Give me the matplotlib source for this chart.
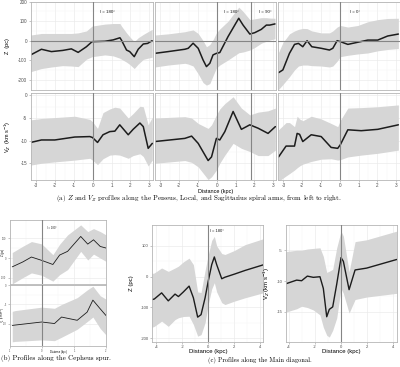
import matplotlib
matplotlib.use("Agg")
import matplotlib.pyplot as plt
import numpy as np

plt.rcParams["font.family"] = ["Liberation Sans", "DejaVu Sans"]
plt.rcParams["axes.unicode_minus"] = False

# ---- (a) Perseus / Local / Sagittarius, Z ----
per_x = [-3.3, -2.73, -2.2, -1.6, -1.14, -0.78, -0.34, -0.04, 0.64, 1.08, 1.44, 1.52, 1.79, 1.96, 2.2, 2.41, 2.68, 2.91, 3.15]
per_z = [-73, -44, -56, -50, -42, -60, -31, -5, -3, 4, 15, 3, -48, -56, -82, -44, -17, -14, 0]
per_hi = [29, 37, 37, 37, 37, 40, 50, 75, 85, 88, 88, 75, 40, 20, -5, 15, 32, 45, 58]
per_lo = [-159, -143, -135, -128, -130, -133, -95, -82, -73, -78, -90, -95, -110, -122, -143, -120, -96, -90, -85]

loc_x = [-3.3, -2.59, -1.7, -1.52, -1.26, -0.99, -0.73, -0.55, -0.37, -0.2, -0.02, 0.16, 0.6, 1.17, 1.4, 1.76, 2.02, 2.37, 2.64, 2.82, 3.1]
loc_z = [-65, -56, -44, -39, -13, -39, -99, -133, -116, -73, -65, -61, 21, 115, 80, 34, 41, 58, 80, 80, 86]
loc_hi = [29, 35, 46, 50, 55, 37, 0, -31, -20, 5, 40, 60, 100, 172, 150, 108, 112, 118, 118, 116, 115]
loc_lo = [-135, -125, -116, -120, -130, -170, -215, -228, -220, -180, -140, -125, -99, -62, -58, -48, -35, -13, -3, 3, 10]

sag_x = [-3.26, -3.03, -2.68, -2.41, -2.2, -1.97, -1.74, -1.49, -0.99, -0.55, -0.37, -0.14, 0.03, 0.43, 0.96, 1.49, 2.02, 2.55, 3.12]
sag_z = [-164, -150, -65, -19, -14, -31, 0, -31, -39, -48, -39, 0, -5, -19, -8, 3, 3, 24, 34]
sag_hi = [-60, -10, 35, 50, 58, 63, 62, 50, 40, 40, 50, 70, 78, 70, 78, 97, 108, 114, 115]
sag_lo = [-250, -225, -185, -150, -130, -125, -125, -128, -130, -135, -130, -105, -82, -75, -68, -63, -52, -45, -40]

# ---- (a) V_Z ----
perv_x = [-3.3, -2.73, -2.02, -0.96, -0.16, -0.02, 0.25, 0.54, 0.9, 1.17, 1.43, 1.88, 2.14, 2.5, 2.68, 2.94, 3.16]
perv = [-10.4, -9.85, -9.85, -9.2, -9.1, -9.3, -10.4, -8.7, -8.0, -7.9, -6.5, -8.7, -7.5, -6.1, -6.9, -11.7, -10.6]
perv_hi = [-5.4, -5.1, -4.9, -4.6, -5.3, -5.8, -7.3, -3.8, -3.0, -2.6, -2.8, -5.0, -4.0, -2.4, -2.5, -6.5, -4.8]
perv_lo = [-15.4, -15.0, -14.7, -14.3, -13.9, -14.3, -15.3, -14.0, -13.2, -13.1, -13.2, -13.9, -13.3, -12.9, -13.5, -15.6, -14.3]

locv_x = [-3.3, -1.7, -1.34, -0.99, -0.46, -0.28, -0.02, 0.16, 0.43, 0.87, 1.31, 1.76, 2.2, 2.73, 3.12]
locv = [-10.2, -9.5, -9.0, -10.6, -14.4, -13.6, -9.5, -9.85, -8.0, -3.55, -7.5, -6.5, -7.25, -8.4, -6.9]
locv_hi = [-5.0, -4.7, -5.0, -6.2, -7.3, -6.5, -4.3, -3.0, -1.8, -0.3, -2.8, -4.3, -3.7, -3.4, -2.8]
locv_lo = [-15.0, -14.4, -14.8, -15.8, -18.6, -18.0, -16.5, -15.0, -13.2, -10.6, -11.7, -12.4, -13.3, -13.3, -12.1]

sagv_x = [-3.26, -2.86, -2.68, -2.41, -2.27, -2.14, -1.97, -1.52, -0.99, -0.46, -0.11, 0.03, 0.43, 1.14, 2.02, 3.12]
sagv = [-13.6, -11.2, -11.2, -11.2, -8.4, -8.6, -10.2, -8.7, -9.1, -11.5, -11.7, -10.9, -7.6, -7.8, -7.5, -6.5]
sagv_hi = [-7.6, -6.0, -6.0, -6.9, -4.6, -5.2, -5.6, -4.6, -5.2, -6.2, -6.9, -5.5, -2.8, -2.7, -2.5, -2.1]
sagv_lo = [-19.0, -17.8, -17.3, -16.5, -16.0, -15.6, -15.2, -14.6, -14.1, -14.0, -14.3, -14.2, -13.6, -13.2, -12.8, -12.1]

# ---- (b) Cepheus spur ----
cep_x = [-0.93, -0.6, -0.33, -0.01, 0.34, 0.55, 0.8, 1.21, 1.43, 1.61, 1.82, 2.0]
cep_z = [-45, -20, 5, -12, -33, 15, 34, 110, 71, 93, 59, 51]
cep_hi = [28, 60, 84, 72, 17, 70, 118, 169, 135, 150, 135, 118]
cep_lo = [-132, -100, -76, -88, -118, -85, -59, 34, -10, 20, 0, -17]

cepv_x = [-0.93, -0.84, -0.01, 0.39, 0.61, 1.1, 1.41, 1.59, 1.82, 2.0]
cepv = [-10.5, -10.4, -9.6, -10.0, -8.3, -9.15, -7.0, -3.85, -6.15, -7.9]
cepv_hi = [-6.8, -6.6, -5.7, -6.0, -5.0, -3.2, -1.2, -0.2, -2.7, -3.6]
cepv_lo = [-14.8, -14.7, -14.3, -14.5, -13.6, -11.5, -9.5, -8.3, -11.3, -13.0]

# ---- (c) Main diagonal ----
main_x = [-4.33, -4.15, -3.59, -3.08, -2.56, -2.3, -1.92, -1.48, -1.15, -0.82, -0.56, -0.25, -0.01, 0.26, 0.46, 0.64, 1.03, 1.28, 2.0, 2.82, 4.2]
main_z = [-75, -73, -53, -79, -57, -65, -50, -31, -69, -132, -124, -69, -15, 39, 64, 39, -7, -2, 8, 20, 38]
main_hi = [10, 12, 28, 17, 28, 34, 48, 60, 39, -50, -52, 20, 70, 118, 131, 100, 75, 72, 85, 104, 123]
main_lo = [-165, -162, -145, -162, -140, -134, -130, -129, -156, -194, -189, -150, -90, -40, -20, -50, -85, -91, -80, -69, -53]

mainv_x = [-4.25, -4.18, -3.41, -3.03, -2.59, -2.13, -1.62, -1.36, -1.1, -0.9, -0.64, -0.33, 0.0, 0.18, 0.62, 1.08, 1.97, 4.28]
mainv = [-10.4, -10.4, -9.85, -9.95, -9.2, -9.4, -9.3, -11.2, -15.8, -14.6, -14.2, -10.5, -6.2, -6.8, -11.4, -8.2, -7.9, -6.5]
mainv_hi = [-5.3, -5.2, -5.0, -5.0, -4.8, -4.7, -4.6, -6.0, -8.6, -8.4, -8.1, -4.6, -1.9, -2.7, -8.5, -3.6, -3.3, -1.9]
mainv_lo = [-15.0, -15.0, -14.5, -14.1, -14.3, -14.7, -15.5, -17.5, -18.8, -19.1, -18.0, -16.0, -11.2, -12.0, -15.2, -13.0, -12.6, -12.0]

W, H = 400, 367
fig = plt.figure(figsize=(W / 100, H / 100), dpi=100)


def box(x0, y0, x1, y1):
    # pixel box (top-left origin) -> figure fraction rect
    return [x0 / W, 1 - y1 / H, (x1 - x0) / W, (y1 - y0) / H]


def ftext(x, y, s, **kw):
    fig.text(x / W, 1 - y / H, s, **kw)


def panel(rect, x, y, lo, hi, xlim, ylim, xt, yt, fs, lw=1.0,
          showx=True, showy=True, vlines=(), zero=False):
    ax = fig.add_axes(box(*rect))
    ax.fill_between(x, lo, hi, color="#d6d6d6", lw=0)
    ax.plot(x, y, color="#1c1c1c", lw=lw, solid_capstyle="round")
    for v in vlines:
        ax.axvline(v, color="#858585", lw=0.8, zorder=3)
    if zero:
        ax.axhline(0, color="#858585", lw=0.8, zorder=3)
    ax.set_xlim(xlim)
    ax.set_ylim(ylim)
    ax.set_xticks(xt)
    ax.set_yticks(yt)
    ax.set_xticks([(a + b) / 2 for a, b in zip(xt[:-1], xt[1:])], minor=True)
    ax.set_yticks([(a + b) / 2 for a, b in zip(yt[:-1], yt[1:])], minor=True)
    ax.grid(True, which="major", color="#ebebeb", lw=0.5, zorder=0)
    ax.grid(True, which="minor", color="#f3f3f3", lw=0.3, zorder=0)
    ax.set_axisbelow(True)
    for s in ax.spines.values():
        s.set_color("#b5b5b5")
        s.set_linewidth(0.6)
    ax.tick_params(labelsize=fs, labelcolor="#4d4d4d", color="#9a9a9a",
                   length=1.5, width=0.4, pad=1)
    ax.tick_params(which="minor", length=0)
    if not showx:
        ax.tick_params(axis="x", labelbottom=False, length=0)
    if not showy:
        ax.tick_params(axis="y", labelleft=False, length=0)
    return ax


ax_t = [-3, -2, -1, 0, 1, 2, 3]
zt = [-200, -100, 0, 100, 200]
vt = [-15, -10, -5, 0]
xl = (-3.3, 3.18)
cols = [(30.7, 152.7), (154.8, 276.5), (277.8, 399.5)]
zset = [(per_x, per_z, per_lo, per_hi, [0]), (loc_x, loc_z, loc_lo, loc_hi, [0, 1.8]), (sag_x, sag_z, sag_lo, sag_hi, [0])]
vset = [(perv_x, perv, perv_lo, perv_hi, [0]), (locv_x, locv, locv_lo, locv_hi, [0, 1.8]), (sagv_x, sagv, sagv_lo, sagv_hi, [0])]
labels = [[(0, "l = 180°")], [(0, "l = 180°"), (1.8, "l = 90°")], [(0, "l = 0°")]]
for i, (c0, c1) in enumerate(cols):
    x, y, lo, hi, vl = zset[i]
    ax = panel((c0, 1.5, c1, 90), x, y, lo, hi, xl, (-253, 201), ax_t, zt, 3.3,
               lw=1.1, showx=False, showy=(i == 0), vlines=vl, zero=True)
    for xv, s in labels[i]:
        ax.text(xv + 0.8, 0.88, s, transform=ax.get_xaxis_transform(),
                ha="center", va="center", fontsize=3.2, color="#1c1c1c")
    x, y, lo, hi, vl = vset[i]
    panel((c0, 92.7, c1, 180), x, y, lo, hi, xl, (-18.7, 0.6), ax_t, vt, 3.3,
          lw=1.1, showy=(i == 0), vlines=vl)

ftext(8, 46, "Z  (pc)", rotation=90, ha="center", va="center", fontsize=4)
ftext(8, 137, "V$_Z$  (km s$^{-1}$)", rotation=90, ha="center", va="center", fontsize=4)
ftext(216, 191, "Distance (kpc)", ha="center", va="center", fontsize=4)
ftext(199, 198.5, "(a) $Z$ and $V_Z$ profiles along the Perseus, Local, and Sagittarius spiral arms, from left to right.",
      ha="center", va="center", fontsize=5.0, family="cmr10", math_fontfamily="cm")

# (b)
ax = panel((10, 220, 106, 283.5), cep_x, cep_z, cep_lo, cep_hi, (-0.93, 2.0), (-130, 194),
           [-1, 0, 1, 2], [-100, 0, 100], 1.8, lw=0.6, showx=False, vlines=[0])
ax.text(0.31, 0.875, "l = 180°", transform=ax.get_xaxis_transform(),
        ha="center", va="center", fontsize=2, color="#1c1c1c")
panel((10, 284.5, 106, 346), cepv_x, cepv, cepv_lo, cepv_hi, (-0.93, 2.0), (-15.9, 0.25),
      [-1, 0, 1, 2], [-10, -5, 0], 1.8, lw=0.6, vlines=[0])
ftext(3.2, 252, "Z (pc)", rotation=90, ha="center", va="center", fontsize=2)
ftext(3.2, 315, "V$_Z$ (km s$^{-1}$)", rotation=90, ha="center", va="center", fontsize=2)
ftext(58, 352.3, "Distance (kpc)", ha="center", va="center", fontsize=1.9)
ftext(1, 358, "(b) Profiles along the Cepheus spur.", ha="left", va="center",
      fontsize=5.0, family="cmr10")

# (c)
ax = panel((152, 225, 263, 342), main_x, main_z, main_lo, main_hi, (-4.33, 4.2), (-213, 168),
           [-4, -2, 0, 2, 4], [-200, -100, 0, 100], 3.0, lw=1.0, vlines=[0])
ax.text(0.63, 0.95, "l = 180°", transform=ax.get_xaxis_transform(),
        ha="center", va="center", fontsize=3.0, color="#1c1c1c")
panel((286, 225, 396.7, 342), mainv_x, mainv, mainv_lo, mainv_hi, (-4.23, 4.28), (-19.9, -0.9),
      [-4, -2, 0, 2, 4], [-15, -10, -5], 3.0, lw=1.0, vlines=[0])
ftext(132, 283, "Z (pc)", rotation=90, ha="center", va="center", fontsize=4.3)
ftext(267, 283, "V$_Z$ (km s$^{-1}$)", rotation=90, ha="center", va="center", fontsize=4.3)
ftext(208, 351, "Distance (kpc)", ha="center", va="center", fontsize=4.3)
ftext(341, 351, "Distance (kpc)", ha="center", va="center", fontsize=4.3)
ftext(260, 360, "(c) Profiles along the Main diagonal.", ha="center", va="center",
      fontsize=4.6, family="cmr10")

fig.savefig("out.png", dpi=100)
